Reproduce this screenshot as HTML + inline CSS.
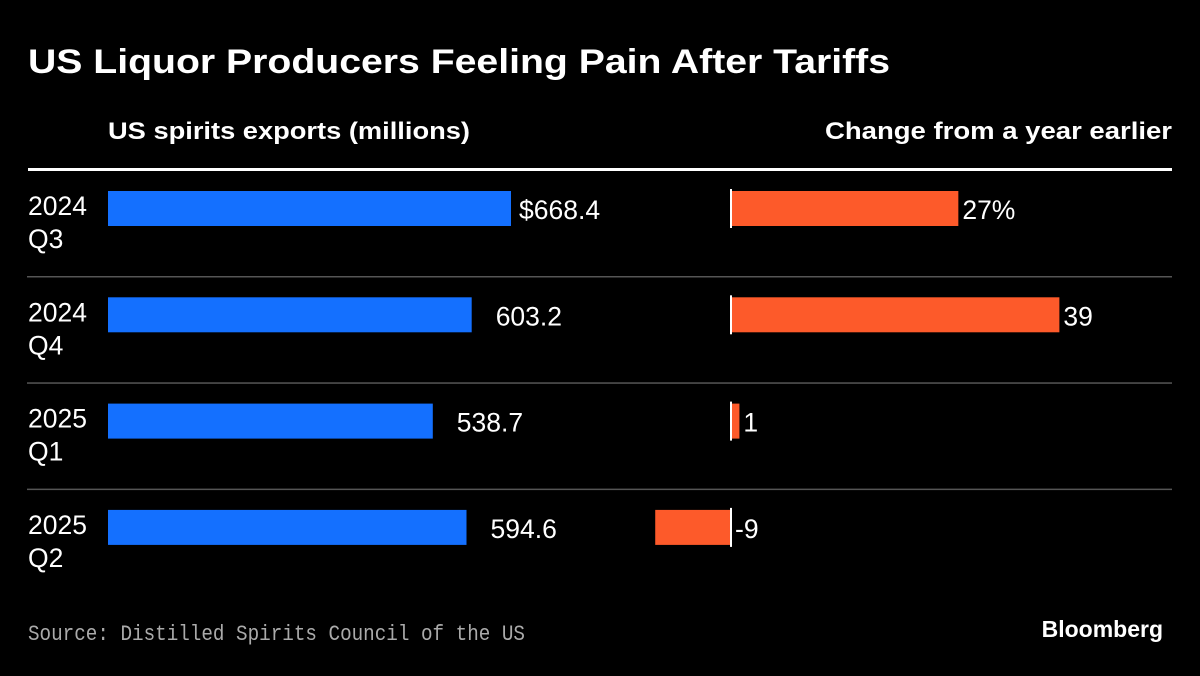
<!DOCTYPE html>
<html><head><meta charset="utf-8"><style>
body{margin:0;background:#000;width:1200px;height:671px;overflow:hidden;font-family:"Liberation Sans",sans-serif;}
svg text{font-family:"Liberation Sans",sans-serif;}
</style></head><body>
<svg width="1200" height="671">
<text x="28" y="73" fill="#fff" font-size="34" font-weight="bold" textLength="862" lengthAdjust="spacingAndGlyphs">US Liquor Producers Feeling Pain After Tariffs</text>
<text x="108" y="139" fill="#fff" font-size="24" font-weight="bold" textLength="362" lengthAdjust="spacingAndGlyphs">US spirits exports (millions)</text>
<text x="825" y="139" fill="#fff" font-size="24" font-weight="bold" textLength="347" lengthAdjust="spacingAndGlyphs">Change from a year earlier</text>
<rect x="28" y="168" width="1144" height="3" fill="#fff"/>
<g id="rows"></g>
<text x="28" y="640" fill="#aaa" font-size="22" textLength="497" lengthAdjust="spacingAndGlyphs" style="font-family:'Liberation Mono',monospace">Source: Distilled Spirits Council of the US</text>
<text x="1163" y="637" fill="#fff" font-size="23" font-weight="bold" text-anchor="end">Bloomberg</text>
</svg>
<script>
const years=["2024","2024","2025","2025"];
const quarters=["Q3","Q4","Q1","Q2"];
const exportsVals=[668.4,603.2,538.7,594.6];
const exportLabels=["$668.4","603.2","538.7","594.6"];
const changeVals=[27,39,1,-9];
const changeLabels=["27%","39","1","-9"];
const NS="http://www.w3.org/2000/svg";
const g=document.getElementById('rows');
const xE=v=>108+v*(403/668.4);
const xC=v=>731+v*8.42;
function mk(tag,a,txt){const e=document.createElementNS(NS,tag);for(const k in a)e.setAttribute(k,a[k]);if(txt!=null)e.textContent=txt;g.appendChild(e);return e;}
years.forEach((y,i)=>{
  const top=191+i*106.3;
  let e;
  e=mk('text',{x:28,y:top+24,fill:'#fff','font-size':26.5},y);
  
  
  e=mk('text',{x:28,y:top+57,fill:'#fff','font-size':26.5},quarters[i]);
  
  
  e=mk('rect',{x:108,y:top,width:xE(exportsVals[i])-108,height:35,fill:'#1470ff'});
  
  
  e=mk('text',{x:xE(exportsVals[i])+(i==0?8:24),y:top+28,fill:'#fff','font-size':26.5},exportLabels[i]);
  
  
  const v=changeVals[i];
  e=mk('rect',{x:Math.min(xC(0),xC(v)),y:top,width:Math.abs(xC(v)-xC(0)),height:35,fill:'#fd5a2a'});
  
  
  e=mk('rect',{x:730,y:top-2,width:2,height:39,fill:'#fff'});
  
  
  e=mk('text',{x:(v>=0?xC(v):xC(0))+4,y:top+28,fill:'#fff','font-size':26.5},changeLabels[i]);
  
  
  if(i<3){
    e=mk('rect',{x:27,y:top+85,width:1145,height:1.5,fill:'#555'});
    
    
  }
});
</script>
</body></html>
